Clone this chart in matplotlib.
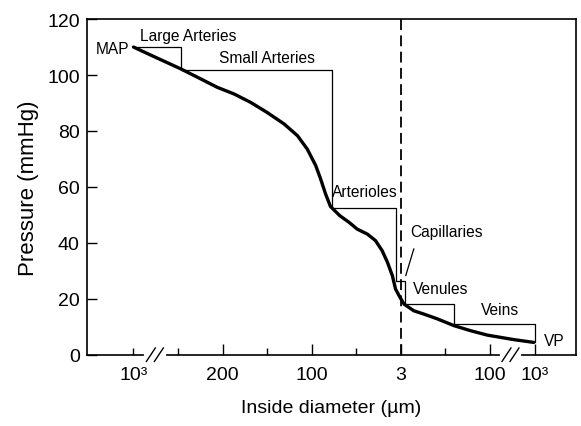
import numpy as np
import matplotlib
matplotlib.use('Agg')
from matplotlib import pyplot as plt

plt.rcParams['font.family'] = ['Liberation Sans', 'DejaVu Sans']

# evenly spaced positions along the (broken) diameter axis
tick_pos = [0, 1, 2, 3, 4, 5, 6, 7, 8, 9]
tick_labels = ['10³', '', '200', '', '100', '', '3', '', '100', '10³']
major_pos = [2, 4, 6, 8, 9]
minor_pos = [0, 1, 3, 5, 7]
break_pos = [0.48, 8.46]

# pressure curve
curve_x = [0.0, 0.39, 1.06, 1.51, 1.88, 2.26, 2.63, 3.0, 3.38, 3.68, 3.9, 4.09,
           4.2, 4.31, 4.42, 4.63, 4.84, 5.02, 5.25, 5.43, 5.58, 5.70, 5.81, 5.88,
           5.96, 6.07, 6.29, 6.52, 6.82, 7.19, 7.56, 7.94, 8.53, 8.98]
curve_y = [110.0, 107.1, 102.2, 98.6, 95.6, 93.2, 90.2, 86.6, 82.5, 78.3, 73.5, 67.6,
           62.8, 57.5, 53.0, 49.7, 47.3, 44.9, 43.1, 40.8, 37.2, 33.0, 28.2, 23.5,
           21.1, 18.1, 15.7, 14.5, 12.8, 10.4, 8.6, 7.0, 5.4, 4.4]

# staircase of vessel segments
step_x = [0.0, 1.06, 4.45, 5.9, 6.1, 7.2, 9.0]
step_y = [110.0, 101.9, 52.3, 26.5, 18.3, 11.0, 4.4]

segments = ['Large Arteries', 'Small Arteries', 'Arterioles', 'Capillaries', 'Venules', 'Veins']
seg_x = [0.15, 1.93, 4.45, 6.22, 6.28, 7.79]
seg_y = [114.3, 106.4, 58.4, 44.2, 23.8, 16.3]

fig = plt.figure(figsize=(5.81, 4.27), dpi=100)
ax = fig.add_axes([0.1492, 0.167, 0.8422, 0.786])

ax.plot(curve_x, curve_y, color='black', linewidth=2.4,
        solid_capstyle='round', solid_joinstyle='round')

# staircase boxes
sx, sy = [], []
for i in range(len(step_y) - 1):
    sx += [step_x[i], step_x[i + 1], step_x[i + 1]]
    sy += [step_y[i], step_y[i], step_y[i + 1]]
ax.plot(sx, sy, color='black', linewidth=0.9)

ax.axvline(6, color='black', linewidth=1.3, linestyle=(0, (6, 3)))

fs = 11.2
ax.text(-0.1, 109.5, 'MAP', ha='right', va='center', fontsize=fs)
ax.text(9.2, 4.9, 'VP', ha='left', va='center', fontsize=fs)
for name, tx, ty in zip(segments, seg_x, seg_y):
    ax.text(tx, ty, name, ha='left', va='center', fontsize=fs)
# pointer to the capillaries box
ax.plot([6.29, 6.11], [37.8, 28.3], color='black', linewidth=0.9)

# axis breaks
for bx in break_pos:
    ax.plot([bx - 0.2, bx + 0.2], [0, 0], color='white', linewidth=3, clip_on=False, zorder=5)
    for dx in (-0.09, 0.09):
        ax.plot([bx + dx - 0.1, bx + dx + 0.1], [-2.4, 2.4], color='black',
                linewidth=1.0, clip_on=False, zorder=6)

ax.set_xlim(-1.05, 9.93)
ax.set_ylim(0, 120)
ax.set_xticks(major_pos, labels=[tick_labels[p] for p in major_pos])
ax.set_xticks(minor_pos, labels=[tick_labels[p] for p in minor_pos], minor=True)
ax.set_yticks(np.arange(0, 121, 20))

ax.tick_params(axis='x', which='major', direction='in', length=8, width=1.0, pad=8, labelsize=14)
ax.tick_params(axis='x', which='minor', direction='in', length=5, width=1.0, pad=8, labelsize=14)
ax.tick_params(axis='y', direction='in', length=7, width=1.0, pad=5, labelsize=14)

for sp in ax.spines.values():
    sp.set_linewidth(1.2)

ax.set_xlabel('Inside diameter (µm)', fontsize=14, labelpad=12)
ax.set_ylabel('Pressure (mmHg)', fontsize=16, labelpad=6)

fig.savefig('out.png', dpi=100)
